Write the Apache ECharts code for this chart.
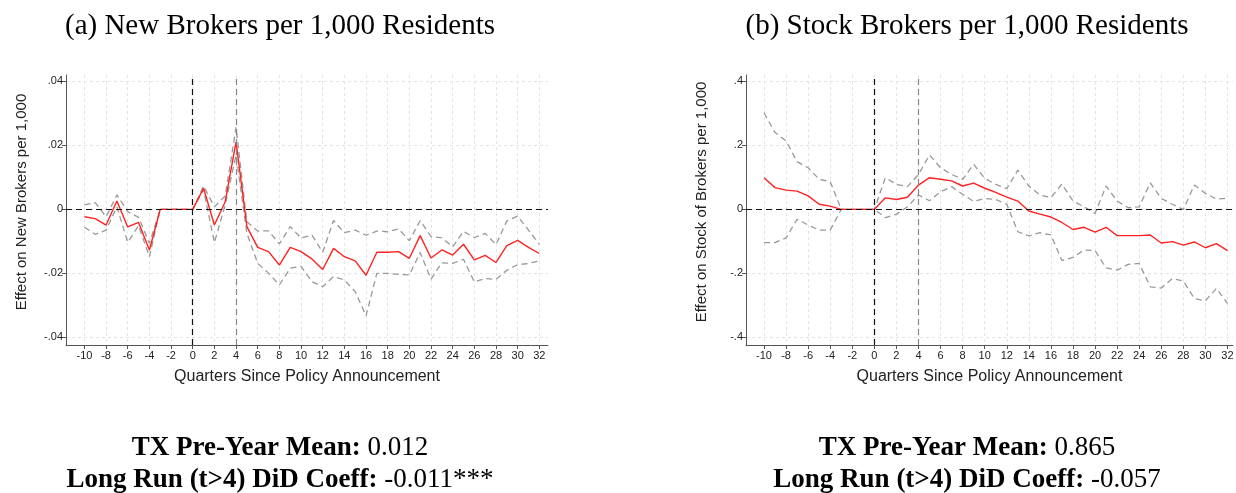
<!DOCTYPE html>
<html>
<head>
<meta charset="utf-8">
<script src="https://cdn.jsdelivr.net/npm/echarts@6/dist/echarts.min.js"></script>
<style>
html,body{margin:0;padding:0;background:#fff;}
#chart{width:1236px;height:493px;}
</style>
</head>
<body>
<div id="chart"></div>
<script>
// ---------- DATA ----------
const quarters = [-10,-9,-8,-7,-6,-5,-4,-3,-2,-1,0,1,2,3,4,5,6,7,8,9,10,11,12,13,14,15,16,17,18,19,20,21,22,23,24,25,26,27,28,29,30,31,32];
const xTickValues = [-10,-8,-6,-4,-2,0,2,4,6,8,10,12,14,16,18,20,22,24,26,28,30,32];
const refQuarters = [0, 4];

// Panel (a): New Brokers per 1,000 Residents
const newEst = [-0.0023,-0.0029,-0.0049,0.0026,-0.0055,-0.0041,-0.0127,0,0,0,0,0.0066,-0.0049,0.0024,0.0211,-0.0054,-0.0119,-0.0132,-0.0174,-0.0119,-0.0132,-0.0155,-0.0188,-0.0122,-0.0148,-0.0161,-0.0206,-0.0134,-0.0134,-0.0132,-0.0153,-0.0082,-0.0152,-0.0127,-0.0143,-0.0109,-0.0158,-0.0144,-0.0166,-0.0113,-0.0097,-0.0119,-0.0138];
const newHi  = [0.0014,0.0021,-0.0023,0.0045,-0.0007,-0.0025,-0.0106,0,0,0,0,0.0073,0.0008,0.0042,0.0256,-0.0039,-0.0068,-0.0067,-0.0108,-0.0054,-0.0090,-0.0080,-0.0134,-0.0035,-0.0073,-0.0065,-0.0081,-0.0068,-0.0070,-0.0061,-0.0098,-0.0035,-0.0085,-0.0089,-0.0117,-0.0069,-0.0088,-0.0075,-0.0110,-0.0036,-0.0021,-0.0065,-0.0109];
const newLo  = [-0.0056,-0.0078,-0.0065,0.0008,-0.0103,-0.0051,-0.0148,0,0,0,0,0.0062,-0.0104,0.0014,0.0170,-0.0075,-0.0169,-0.0200,-0.0236,-0.0184,-0.0178,-0.0226,-0.0242,-0.0210,-0.0221,-0.0257,-0.0333,-0.0200,-0.0200,-0.0203,-0.0205,-0.0135,-0.0218,-0.0167,-0.0169,-0.0156,-0.0227,-0.0216,-0.0219,-0.0190,-0.0173,-0.0169,-0.0161];
const newYTicks  = [-0.04,-0.02,0,0.02,0.04];
const newYLabels = ['-.04','-.02','0','.02','.04'];

// Panel (b): Stock Brokers per 1,000 Residents
const stockEst = [0.099,0.068,0.060,0.057,0.042,0.016,0.010,0,0,0,0,0.036,0.031,0.038,0.076,0.099,0.094,0.089,0.073,0.082,0.066,0.053,0.038,0.026,-0.005,-0.015,-0.024,-0.041,-0.063,-0.056,-0.071,-0.056,-0.082,-0.082,-0.082,-0.080,-0.105,-0.101,-0.112,-0.102,-0.120,-0.107,-0.129];
const stockHi  = [0.302,0.240,0.214,0.149,0.130,0.094,0.087,0,0,0,0,0.099,0.078,0.071,0.109,0.170,0.130,0.109,0.094,0.141,0.097,0.078,0.065,0.123,0.073,0.045,0.037,0.079,0.026,0.008,-0.013,0.073,0.026,0.005,0.008,0.083,0.034,0.016,0.000,0.076,0.050,0.032,0.035];
const stockLo  = [-0.104,-0.104,-0.089,-0.031,-0.049,-0.065,-0.065,0,0,0,0,-0.026,-0.015,0.008,0.045,0.027,0.055,0.071,0.047,0.025,0.034,0.031,0.016,-0.070,-0.083,-0.073,-0.080,-0.160,-0.150,-0.127,-0.129,-0.183,-0.190,-0.172,-0.169,-0.242,-0.246,-0.216,-0.224,-0.279,-0.286,-0.247,-0.294];
const stockYTicks  = [-0.4,-0.2,0,0.2,0.4];
const stockYLabels = ['-.4','-.2','0','.2','.4'];

// Texts
const titles = ['(a) New Brokers per 1,000 Residents', '(b) Stock Brokers per 1,000 Residents'];
const yNames = ['Effect on New Brokers per 1,000', 'Effect on Stock of Brokers per 1,000'];
const xName = 'Quarters Since Policy Announcement';
const meanLabel = 'TX Pre-Year Mean:';
const coeffLabel = 'Long Run (t>4) DiD Coeff:';
const meanValues = ['0.012', '0.865'];
const coeffValues = ['-0.011***', '-0.057'];

// ---------- CHART ----------
const chart = echarts.init(document.getElementById('chart'), null, {renderer: 'canvas'});
const pair = (arr) => quarters.map((q, i) => [q, arr[i]]);

const SANS = 'Liberation Sans, Arial, sans-serif';
const SERIF = 'Liberation Serif, Times New Roman, serif';
const gridLine = {show: true, lineStyle: {color: '#e4e4e4', type: [3, 3], width: 1}};

function xAxis(idx, min, max) {
  return {
    type: 'value', gridIndex: idx, min: min, max: max,
    name: xName, nameLocation: 'middle', nameGap: 24,
    nameTextStyle: {fontFamily: SANS, fontSize: 16, color: '#222'},
    axisLine: {show: true, onZero: false, lineStyle: {color: '#555', width: 1}},
    axisTick: {show: true, length: 4, customValues: xTickValues, lineStyle: {color: '#555'}},
    axisLabel: {customValues: xTickValues, fontFamily: SANS, fontSize: 11, color: '#222', margin: 5},
    splitLine: gridLine
  };
}
function yAxis(idx, min, max, ticks, labels, name) {
  return {
    type: 'value', gridIndex: idx, min: min, max: max,
    name: name, nameLocation: 'middle', nameGap: 37, nameRotate: 90,
    nameTextStyle: {fontFamily: SANS, fontSize: 15, color: '#222', padding: [0, 0, 0, 16]},
    axisLine: {show: true, onZero: false, lineStyle: {color: '#555', width: 1}},
    axisTick: {show: true, length: 4, customValues: ticks, lineStyle: {color: '#555'}},
    axisLabel: {customValues: ticks, fontFamily: SANS, fontSize: 11, color: '#222', margin: 3,
      formatter: (v) => { const k = ticks.findIndex(t => Math.abs(t - v) < 1e-9); return k >= 0 ? labels[k] : ''; }},
    splitLine: gridLine
  };
}

function refSeries(idx) {
  return {
    type: 'line', xAxisIndex: idx, yAxisIndex: idx, data: [], z: 2, silent: true,
    markLine: {
      silent: true, symbol: ['none', 'none'], label: {show: false}, animation: false,
      data: [
        {xAxis: refQuarters[0], lineStyle: {color: '#111', type: [6, 4], width: 1.2}},
        {xAxis: refQuarters[1], lineStyle: {color: '#888', type: [6, 4], width: 1.2}},
        {yAxis: 0, lineStyle: {color: '#111', type: [6, 4], width: 1.2}}
      ]
    }
  };
}
function ciSeries(idx, arr) {
  return {type: 'line', xAxisIndex: idx, yAxisIndex: idx, data: pair(arr), z: 3, symbol: 'none',
    silent: true, lineStyle: {color: '#999', width: 1.3, type: [6, 4]}};
}
function estSeries(idx, arr) {
  return {type: 'line', xAxisIndex: idx, yAxisIndex: idx, data: pair(arr), z: 4, symbol: 'none',
    silent: true, lineStyle: {color: '#ff2222', width: 1.4}};
}

function textBlock(x, y, label, value) {
  return {
    type: 'text', x: x, y: y,
    style: {
      text: '{b|' + label + '}{n|\u00a0' + value + '}',
      align: 'center', verticalAlign: 'middle',
      rich: {
        b: {fontFamily: SERIF, fontWeight: 'bold', fontSize: 27, fill: '#000'},
        n: {fontFamily: SERIF, fontSize: 27, fill: '#000'}
      }
    }
  };
}

const centers = [280, 967];
const graphics = [];
[0, 1].forEach(i => {
  graphics.push({type: 'text', x: centers[i], y: 26,
    style: {text: titles[i], fontFamily: SERIF, fontSize: 29, fill: '#000', align: 'center', verticalAlign: 'middle'}});
  graphics.push(textBlock(centers[i], 448, meanLabel, meanValues[i]));
  graphics.push(textBlock(centers[i], 480, coeffLabel, coeffValues[i]));
});

chart.setOption({
  animation: false,
  backgroundColor: '#fff',
  grid: [
    {left: 66, top: 75, width: 482, height: 270, containLabel: false, outerBoundsMode: 'none'},
    {left: 746, top: 75, width: 487, height: 270, containLabel: false, outerBoundsMode: 'none'}
  ],
  xAxis: [xAxis(0, -11.7, 32.8), xAxis(1, -11.63, 32.5)],
  yAxis: [
    yAxis(0, -0.0424, 0.042, newYTicks, newYLabels, yNames[0]),
    yAxis(1, -0.424, 0.42, stockYTicks, stockYLabels, yNames[1])
  ],
  series: [
    refSeries(0), ciSeries(0, newHi), ciSeries(0, newLo), estSeries(0, newEst),
    refSeries(1), ciSeries(1, stockHi), ciSeries(1, stockLo), estSeries(1, stockEst)
  ],
  graphic: graphics
});
</script>
</body>
</html>
